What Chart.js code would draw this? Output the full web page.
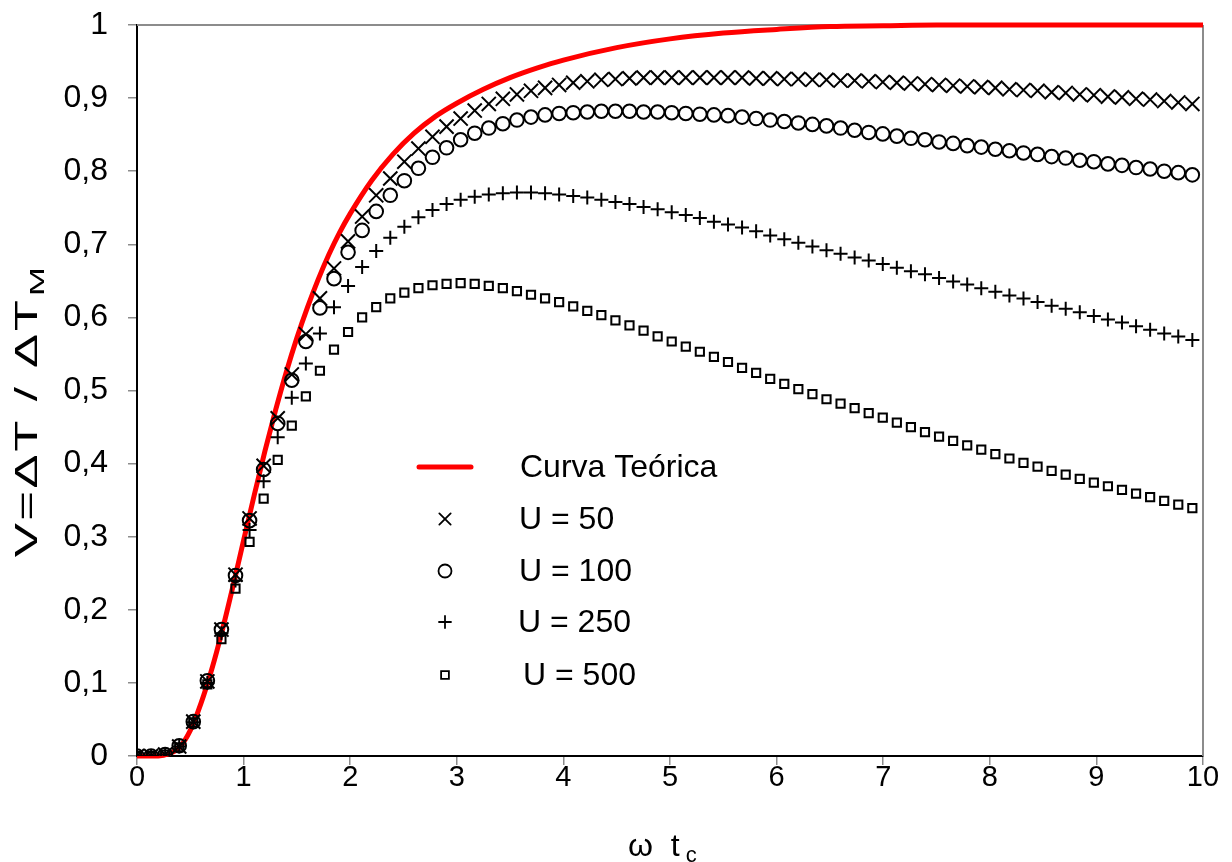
<!DOCTYPE html>
<html>
<head>
<meta charset="utf-8">
<script src="https://cdn.jsdelivr.net/npm/chart.js@4.4.1/dist/chart.umd.min.js"></script>
<style>
html,body{margin:0;padding:0;background:#fff;}
canvas{display:block;}
</style>
</head>
<body>
<canvas id="c" width="1232" height="862" style="width:1232px;height:862px"></canvas>
<script>
// ---------------- data ----------------
const seriesNames = ['Curva Teórica', 'U = 50', 'U = 100', 'U = 250', 'U = 500'];
const xTickLabels = ['0','1','2','3','4','5','6','7','8','9','10'];
const yTickLabels = ['0','0,1','0,2','0,3','0,4','0,5','0,6','0,7','0,8','0,9','1'];
const xTickValues = [0,1,2,3,4,5,6,7,8,9,10];
const yTickValues = [0,0.1,0.2,0.3,0.4,0.5,0.6,0.7,0.8,0.9,1];

// theoretical curve
const xTheo = [0, 0.2, 0.3, 0.4, 0.5, 0.6, 0.7, 0.8, 0.9, 1.0, 1.1, 1.2, 1.3, 1.4, 1.5, 1.6, 1.7, 1.8, 1.9, 2.0,
  2.2, 2.4, 2.6, 2.8, 3.0, 3.25, 3.5, 3.75, 4.0, 4.5, 5.0, 5.5, 6.0, 6.5, 7.0, 7.5, 8.0, 9.0, 10.0];
const yTheo = [0, 0, 0.003, 0.012, 0.035, 0.072, 0.118, 0.172, 0.232, 0.295, 0.357, 0.417, 0.473, 0.525, 0.572, 0.614, 0.652, 0.686, 0.716, 0.742,
  0.787, 0.823, 0.852, 0.875, 0.893, 0.912, 0.928, 0.941, 0.952, 0.969, 0.981, 0.989, 0.994, 0.998, 0.999, 1.0, 1.0, 1.0, 1.0];

// simulation points (omega t_c)
const xPts = [0, 0.132, 0.264, 0.396, 0.528, 0.66, 0.792, 0.924, 1.056, 1.188,
  1.32, 1.452, 1.584, 1.716, 1.848, 1.98, 2.112, 2.244, 2.376, 2.508,
  2.64, 2.772, 2.904, 3.036, 3.168, 3.3, 3.432, 3.564, 3.696, 3.828,
  3.96, 4.092, 4.224, 4.356, 4.488, 4.62, 4.752, 4.884, 5.016, 5.148,
  5.28, 5.412, 5.544, 5.676, 5.808, 5.94, 6.072, 6.204, 6.336, 6.468,
  6.6, 6.732, 6.864, 6.996, 7.128, 7.26, 7.392, 7.524, 7.656, 7.788,
  7.92, 8.052, 8.184, 8.316, 8.448, 8.58, 8.712, 8.844, 8.976, 9.108,
  9.24, 9.372, 9.504, 9.636, 9.768, 9.9];

const u50 = [0, 0, 0.002, 0.013, 0.047, 0.102, 0.173, 0.248, 0.325, 0.397,
  0.462, 0.522, 0.577, 0.626, 0.667, 0.704, 0.738, 0.767, 0.790, 0.813,
  0.831, 0.847, 0.861, 0.872, 0.883, 0.892, 0.899, 0.905, 0.910, 0.914,
  0.918, 0.921, 0.923, 0.925, 0.926, 0.927, 0.928, 0.928, 0.928, 0.928,
  0.928, 0.928, 0.928, 0.928, 0.927, 0.927, 0.926, 0.926, 0.925, 0.925,
  0.924, 0.924, 0.923, 0.922, 0.921, 0.920, 0.919, 0.918, 0.917, 0.916,
  0.915, 0.914, 0.912, 0.911, 0.910, 0.908, 0.907, 0.905, 0.904, 0.902,
  0.901, 0.899, 0.898, 0.896, 0.894, 0.892];

const u100 = [0, 0, 0.002, 0.014, 0.047, 0.103, 0.173, 0.247, 0.322, 0.392,
  0.455, 0.514, 0.567, 0.613, 0.653, 0.689, 0.719, 0.745, 0.767, 0.787,
  0.804, 0.819, 0.832, 0.843, 0.852, 0.859, 0.865, 0.870, 0.874, 0.877,
  0.879, 0.880, 0.881, 0.882, 0.882, 0.882, 0.881, 0.881, 0.880, 0.879,
  0.878, 0.877, 0.876, 0.874, 0.872, 0.870, 0.868, 0.866, 0.864, 0.862,
  0.859, 0.856, 0.853, 0.851, 0.848, 0.845, 0.843, 0.840, 0.838, 0.835,
  0.833, 0.830, 0.828, 0.825, 0.823, 0.820, 0.818, 0.815, 0.813, 0.810,
  0.808, 0.805, 0.803, 0.800, 0.798, 0.795];

const u250 = [0, 0, 0.002, 0.013, 0.046, 0.100, 0.168, 0.240, 0.309, 0.376,
  0.436, 0.490, 0.537, 0.578, 0.614, 0.643, 0.669, 0.691, 0.709, 0.724,
  0.737, 0.747, 0.755, 0.761, 0.765, 0.768, 0.770, 0.771, 0.771, 0.770,
  0.768, 0.766, 0.764, 0.761, 0.758, 0.755, 0.751, 0.748, 0.744, 0.740,
  0.736, 0.731, 0.727, 0.723, 0.718, 0.712, 0.707, 0.702, 0.697, 0.692,
  0.687, 0.682, 0.678, 0.673, 0.668, 0.663, 0.659, 0.654, 0.649, 0.645,
  0.640, 0.635, 0.630, 0.626, 0.621, 0.616, 0.612, 0.607, 0.602, 0.597,
  0.593, 0.588, 0.583, 0.578, 0.574, 0.569];

const u500 = [0, 0, 0.002, 0.012, 0.046, 0.098, 0.160, 0.229, 0.293, 0.352,
  0.405, 0.452, 0.492, 0.527, 0.556, 0.580, 0.600, 0.614, 0.626, 0.634,
  0.640, 0.644, 0.646, 0.647, 0.646, 0.643, 0.640, 0.636, 0.631, 0.626,
  0.621, 0.615, 0.609, 0.603, 0.596, 0.589, 0.582, 0.574, 0.567, 0.560,
  0.553, 0.546, 0.539, 0.531, 0.524, 0.516, 0.509, 0.502, 0.495, 0.488,
  0.482, 0.476, 0.469, 0.463, 0.456, 0.450, 0.443, 0.437, 0.431, 0.425,
  0.419, 0.413, 0.407, 0.401, 0.396, 0.390, 0.385, 0.379, 0.374, 0.369,
  0.364, 0.359, 0.354, 0.349, 0.344, 0.339];

// ---------------- helpers ----------------
const FONT = "'Liberation Sans', Arial, sans-serif";
const toXY = (xs, ys) => xs.map((x, i) => ({ x: x, y: ys[i] }));

// narrow font for x tick labels if available
const NARROW = (function () {
  const c = document.createElement('canvas').getContext('2d');
  c.font = "32px 'Liberation Sans Narrow', monospace";
  const a = c.measureText('1010').width;
  c.font = '32px monospace';
  const b = c.measureText('1010').width;
  return Math.abs(a - b) > 0.5 ? { family: "'Liberation Sans Narrow', 'Liberation Sans', sans-serif", size: 34 }
                               : { family: FONT, size: 29 };
})();

function drawMarker(ctx, style, x, y, r, lw) {
  ctx.save();
  ctx.strokeStyle = '#000';
  ctx.lineWidth = lw;
  ctx.beginPath();
  if (style === 'crossRot') {
    const d = r * Math.SQRT1_2;
    ctx.moveTo(x - d, y - d); ctx.lineTo(x + d, y + d);
    ctx.moveTo(x + d, y - d); ctx.lineTo(x - d, y + d);
  } else if (style === 'circle') {
    ctx.arc(x, y, r, 0, Math.PI * 2);
  } else if (style === 'cross') {
    ctx.moveTo(x - r, y); ctx.lineTo(x + r, y);
    ctx.moveTo(x, y - r); ctx.lineTo(x, y + r);
  } else if (style === 'rect') {
    const s = r * Math.SQRT1_2;
    ctx.rect(x - s, y - s, 2 * s, 2 * s);
  }
  ctx.stroke();
  ctx.restore();
}

// gray frame on top and right of plot area
const framePlugin = {
  id: 'frame',
  beforeDatasetsDraw(chart) {
    const { ctx, chartArea: a } = chart;
    ctx.save();
    ctx.strokeStyle = '#8c8c8c';
    ctx.lineWidth = 2;
    ctx.beginPath();
    ctx.moveTo(a.left, a.top); ctx.lineTo(a.right, a.top);
    ctx.moveTo(a.right, a.top); ctx.lineTo(a.right, a.bottom);
    ctx.stroke();
    ctx.restore();
  }
};

// legend inside the plot area
const legendPlugin = {
  id: 'insideLegend',
  afterDraw(chart) {
    const ctx = chart.ctx;
    const rows = [
      { y: 467, tx: 520 },
      { y: 519, tx: 519 },
      { y: 571, tx: 519 },
      { y: 622, tx: 518 },
      { y: 675, tx: 523 }
    ];
    const styles = [null, 'crossRot', 'circle', 'cross', 'rect'];
    const radii = [0, 8, 6.5, 6, 5.5];
    ctx.save();
    ctx.strokeStyle = '#ff0000';
    ctx.lineWidth = 5;
    ctx.lineCap = 'round';
    ctx.beginPath();
    ctx.moveTo(419, rows[0].y); ctx.lineTo(471, rows[0].y);
    ctx.stroke();
    for (let i = 1; i < 5; i++) drawMarker(ctx, styles[i], 445, rows[i].y, radii[i], 1.8);
    ctx.fillStyle = '#000';
    ctx.font = '32px ' + FONT;
    ctx.textAlign = 'left';
    ctx.textBaseline = 'middle';
    for (let i = 0; i < 5; i++) ctx.fillText(seriesNames[i], rows[i].tx, rows[i].y + 1);
    ctx.restore();
  }
};

// axis titles with subscripts
const titlePlugin = {
  id: 'axisTitles',
  afterDraw(chart) {
    const ctx = chart.ctx;
    ctx.save();
    ctx.fillStyle = '#000';
    ctx.textBaseline = 'alphabetic';
    ctx.textAlign = 'left';
    // x title: ω t_c
    ctx.font = '32px ' + FONT;
    const xMain = 'ω  t';
    const wMain = ctx.measureText(xMain).width;
    ctx.fillText(xMain, 628, 856);
    ctx.font = '22px ' + FONT;
    ctx.fillText('c', 628 + wMain + 6, 862);
    ctx.restore();

    // y title: V=ΔT / ΔT_M (rotated, elongated)
    ctx.save();
    ctx.fillStyle = '#000';
    ctx.textBaseline = 'alphabetic';
    ctx.textAlign = 'left';
    ctx.translate(37, 411);
    ctx.rotate(-Math.PI / 2);
    ctx.scale(1.65, 1);
    if ('letterSpacing' in ctx) ctx.letterSpacing = '1.5px';
    ctx.font = '31px ' + FONT;
    const yMain = 'V=ΔT / ΔT';
    const wy = ctx.measureText(yMain).width;
    ctx.font = '21px ' + FONT;
    const wm = ctx.measureText('M').width;
    const ys0 = -(wy + wm + 1) / 2;
    ctx.font = '31px ' + FONT;
    ctx.fillText(yMain, ys0, 0);
    ctx.font = '21px ' + FONT;
    ctx.fillText('M', ys0 + wy + 1, 7);
    ctx.restore();
  }
};

// ---------------- chart ----------------
const markerCommon = {
  showLine: false,
  borderColor: '#000',
  backgroundColor: 'rgba(0,0,0,0)',
  pointBorderColor: '#000',
  pointBackgroundColor: 'rgba(0,0,0,0)',
  pointHoverRadius: 0
};

new Chart(document.getElementById('c').getContext('2d'), {
  type: 'scatter',
  data: {
    datasets: [
      Object.assign({ label: seriesNames[1], data: toXY(xPts, u50), pointStyle: 'crossRot', pointRadius: 10, pointBorderWidth: 2, order: 1 }, markerCommon),
      Object.assign({ label: seriesNames[2], data: toXY(xPts, u100), pointStyle: 'circle', pointRadius: 6.8, pointBorderWidth: 2, order: 2 }, markerCommon),
      Object.assign({ label: seriesNames[3], data: toXY(xPts, u250), pointStyle: 'cross', pointRadius: 7, pointBorderWidth: 2, order: 3 }, markerCommon),
      Object.assign({ label: seriesNames[4], data: toXY(xPts, u500), pointStyle: 'rect', pointRadius: 5.8, pointBorderWidth: 2, order: 4 }, markerCommon),
      {
        label: seriesNames[0], type: 'line', data: toXY(xTheo, yTheo),
        borderColor: '#ff0000', backgroundColor: '#ff0000', borderWidth: 5,
        pointRadius: 0, pointHoverRadius: 0, showLine: true, fill: false,
        cubicInterpolationMode: 'monotone', clip: false, order: 5
      }
    ]
  },
  options: {
    responsive: false,
    animation: false,
    devicePixelRatio: 1,
    events: [],
    layout: { padding: { top: 25, right: 29, left: 0, bottom: 0 } },
    plugins: { legend: { display: false }, tooltip: { enabled: false } },
    scales: {
      x: {
        type: 'linear', min: 0, max: 10,
        afterFit(s) { s.height = 106; s.paddingLeft = 0; s.paddingRight = 0; },
        afterBuildTicks(s) { s.ticks = xTickValues.map(v => ({ value: v })); },
        ticks: {
          callback: (v, i) => xTickLabels[i],
          font: NARROW, color: '#000',
          padding: -4, maxRotation: 0, autoSkip: false
        },
        grid: { drawOnChartArea: false, drawTicks: true, tickLength: 9, color: '#8c8c8c', lineWidth: 1.5 },
        border: { display: true, color: '#000', width: 2 }
      },
      y: {
        type: 'linear', min: 0, max: 1,
        afterFit(s) { s.width = 137; s.paddingTop = 0; s.paddingBottom = 0; },
        afterBuildTicks(s) { s.ticks = yTickValues.map(v => ({ value: v })); },
        ticks: {
          callback: (v, i) => yTickLabels[i],
          font: { family: FONT, size: 32 }, color: '#000',
          padding: 20, autoSkip: false
        },
        grid: { drawOnChartArea: false, drawTicks: true, tickLength: 9, color: '#8c8c8c', lineWidth: 1.5 },
        border: { display: true, color: '#000', width: 2 }
      }
    }
  },
  plugins: [framePlugin, legendPlugin, titlePlugin]
});
</script>
</body>
</html>
